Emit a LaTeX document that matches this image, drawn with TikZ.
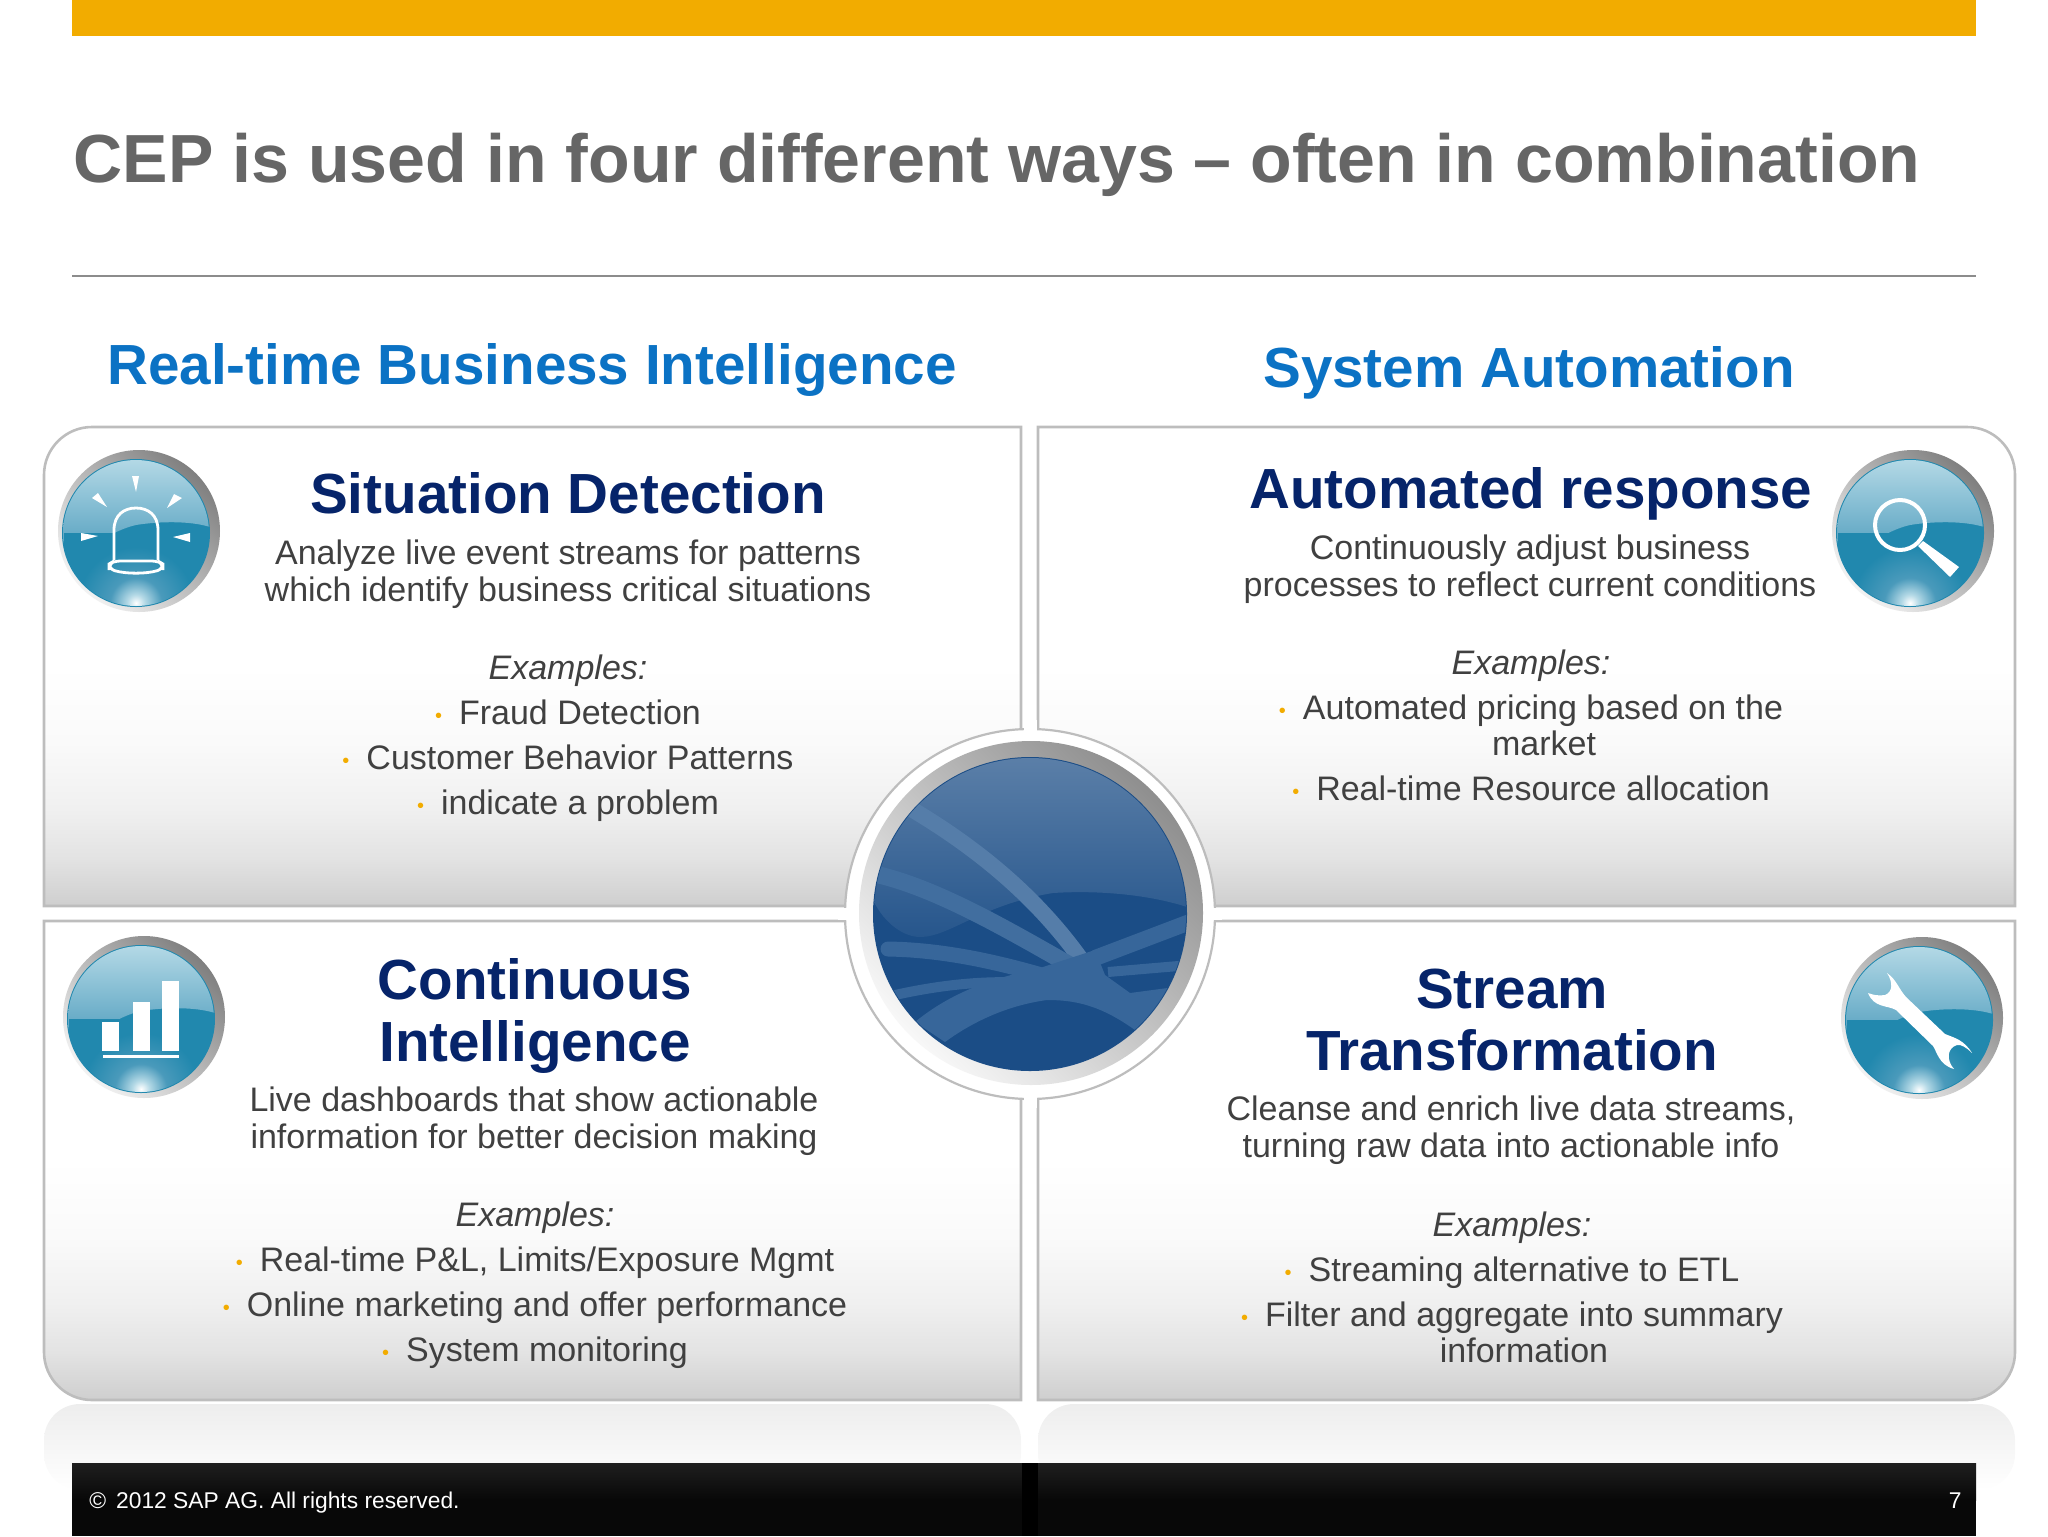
\documentclass[tikz,border=0pt]{standalone}
\usepackage{fontspec}
\setmainfont{Liberation Sans}
\usetikzlibrary{positioning}
\definecolor{sapgold}{HTML}{F2AC00}
\definecolor{titlegray}{HTML}{666666}
\definecolor{headblue}{HTML}{0B72C4}
\definecolor{navy}{HTML}{06246A}
\definecolor{bodygray}{HTML}{404040}
\definecolor{edgegray}{HTML}{BDBDBD}
\definecolor{teal}{HTML}{2188AE}
\definecolor{tealpale}{HTML}{B4D9E6}
\definecolor{tealmid}{HTML}{4A9ABB}
\definecolor{hubdark}{HTML}{1B4D86}
\definecolor{hubstrand}{HTML}{37669A}
\pgfdeclareverticalshading{panelshade}{100bp}{color(0bp)=(black!25); color(25bp)=(black!19); color(30bp)=(black!11); color(35bp)=(black!6); color(42bp)=(black!2); color(50bp)=(white); color(100bp)=(white)}
\pgfdeclareradialshading{ballglow}{\pgfpoint{0bp}{0bp}}{color(0bp)=(white); color(3bp)=(tealpale); color(9bp)=(tealmid); color(20bp)=(teal); color(100bp)=(teal)}
\newcommand{\dotitem}{\textcolor{sapgold}{\raisebox{.1ex}{\fontsize{10pt}{10pt}\selectfont\textbullet}}\hspace{8.5pt}}
\tikzset{
	x=.5pt, y=-.5pt,
	node distance=22.5pt,
	panelbox/.style={draw=edgegray, line width=1.3pt, shading=panelshade},
	mirrorbox/.style={top color=black!7, bottom color=white, draw=none},
	pagetitle/.style={font=\fontsize{34.05pt}{36pt}\selectfont\bfseries, text=titlegray, anchor=base},
	quadtitle/.style={font=\fontsize{28.3pt}{30pt}\selectfont\bfseries, text=headblue, anchor=base},
	boxhead/.style={font=\fontsize{28.3pt}{30pt}\selectfont\bfseries, text=navy, anchor=base, inner sep=0pt},
	boxtext/.style={font=\fontsize{17pt}{18.5pt}\selectfont, text=bodygray, anchor=base, align=center, inner sep=0pt},
	item/.style={font=\fontsize{17pt}{18.5pt}\selectfont, text=bodygray, inner sep=0pt, text height=13pt, text depth=4pt},
	ballline/.style={draw=white, line width=1.4pt},
	pics/glassball/.style={code={
		\shade[top color=black!50, bottom color=black!5, shading angle=-45] (3,-2) circle (81);
		\fill[teal] (0,0) circle (74);
		\begin{scope}
			\clip (0,0) circle (73);
			\shade[top color=tealpale, bottom color=tealmid] (-74,8) .. controls (-55,30) and (-35,0) .. (0,-8) .. controls (25,-12) and (55,-12) .. (74,-6) -- (74,-74) -- (-74,-74) -- cycle;
			\shade[shading=ballglow] (-72,0) rectangle (72,140);
		\end{scope}
		#1
	}}
}
\begin{document}
\begin{tikzpicture}
	\useasboundingbox (0,0) rectangle (2048,1536);
	\fill[sapgold] (72,0) rectangle (1976,36);
	\node[pagetitle] (title) at (997,182) {CEP is used in four different ways -- often in combination};
	\draw[black!45, line width=.8pt] (72,276) -- (1976,276);
	\node[quadtitle] (leftcol) at (532,384) {Real-time Business Intelligence};
	\node[quadtitle] (rightcol) at (1529,387) {System Automation};

	% reflection under the lower boxes
	\path[mirrorbox, rounded corners=18] (44,1490) -- (44,1404) -- (1021,1404) -- (1021,1490) -- cycle;
	\path[mirrorbox, rounded corners=18] (1038,1490) -- (1038,1404) -- (2015,1404) -- (2015,1490) -- cycle;

	\path[panelbox] (44,906) {[rounded corners=24] -- (44,427) -- (300,427)} -- (1021,427) -- (1021,906) -- cycle;
	\path[panelbox] (1038,906) -- (1038,427) {[rounded corners=24] -- (2015,427) -- (2015,700)} -- (2015,906) -- cycle;
	\path[panelbox] (44,921) -- (1021,921) -- (1021,1400) {[rounded corners=24] -- (44,1400) -- (44,1200)} -- cycle;
	\path[panelbox] (1038,921) -- (2015,921) {[rounded corners=24] -- (2015,1400) -- (1500,1400)} -- (1038,1400) -- cycle;

	% middle
	\draw[edgegray, fill=white, line width=1.1pt] (1030,914) circle (185);
	\fill[white] (1023.5,720) rectangle (1036.5,740);
	\fill[white] (1023.5,1088) rectangle (1036.5,1108);
	\fill[white] (838,908) rectangle (852,919.5);
	\fill[white] (1208,908) rectangle (1222,919.5);
	\shade[top color=black!44, bottom color=black!3, shading angle=-45] (1031,913) circle (172);
	\fill[hubdark] (1030,914) circle (157);
	\begin{scope}
		\clip (1030,914) circle (156);
		\shade[top color=hubdark!72!white, bottom color=hubdark!95!white] (873,900) .. controls (885,925) and (905,937) .. (920,937) .. controls (950,937) and (980,905) .. (1053,893) .. controls (1100,890) and (1150,895) .. (1187,907) -- (1187,757) -- (873,757) -- cycle;
		\draw[hubstrand!85!white, line width=8pt, line cap=round] (913,810) .. controls (980,850) and (1040,900) .. (1085,965);
		\draw[hubstrand!95!white, line width=8.5pt, line cap=round] (870,873) .. controls (930,885) and (1000,925) .. (1075,968);
		\draw[hubstrand, line width=7.5pt, line cap=round] (888,949) .. controls (950,950) and (1010,965) .. (1065,982);
		\draw[hubstrand, line width=5pt] (895,995) .. controls (940,985) and (985,980) .. (1030,983);
		\draw[hubstrand, line width=8pt] (1095,958) -- (1195,920);
		\draw[hubstrand, line width=5pt] (1108,972) -- (1190,965);
		\fill[hubstrand] (915,1022) .. controls (960,985) and (1010,975) .. (1040,968) -- (1095,950) -- (1105,975) -- (1130,993) -- (1190,985) -- (1190,1020) -- (1135,1030) .. controls (1100,1005) and (1075,1000) .. (1047,1000) .. controls (1010,1005) and (975,1020) .. (945,1042) -- cycle;
	\end{scope}

	% icons
	\path (136,533) pic (alarm) {glassball={
		\fill[white] (-4,-57) -- (3,-57) -- (0,-41) -- cycle;
		\fill[white] (-44,-35) -- (-38,-40) -- (-29,-26) -- cycle;
		\fill[white] (46,-35) -- (38,-39) -- (31,-25) -- cycle;
		\fill[white] (-55,0) -- (-55,8) -- (-38,3) -- cycle;
		\fill[white] (54,0) -- (54,9) -- (37,4) -- cycle;
		\draw[ballline] (-22,27) -- (-22,-3) .. controls (-22,-18) and (-12,-25) .. (0,-25) .. controls (12,-25) and (22,-18) .. (22,-3) -- (22,27);
		\draw[ballline, rounded corners=3] (-22,28) -- (22,28) -- (27,31) -- (27,36) .. controls (10,41) and (-10,41) .. (-27,36) -- (-27,31) -- cycle;
	}};
	\path (1910,533) pic (lens) {glassball={
		\draw[ballline, line width=2pt] (-10,-8) circle (25);
		\fill[white] (8,13) -- (13,8) -- (49,34) -- (40,44) -- cycle;
	}};
	\path (1919,1020) pic (wrench) {glassball={
		\fill[white] (-51,-27) .. controls (-45,-12) and (-32,-15) .. (-23,-10) -- (14,26) .. controls (18,32) and (20,45) .. (35,49) .. controls (27,40) and (28,28) .. (38,25) .. controls (42,24) and (48,28) .. (53,33) .. controls (45,20) and (36,18) .. (26,14) -- (-12,-22) .. controls (-20,-30) and (-22,-40) .. (-32,-47) .. controls (-26,-38) and (-26,-28) .. (-34,-25) .. controls (-40,-24) and (-46,-25) .. (-51,-27) -- cycle;
	}};
	\path (141,1019) pic (bars) {glassball={
		\fill[white] (-39,3) rectangle (-22,32);
		\fill[white] (-8,-17) rectangle (9,32);
		\fill[white] (21,-38) rectangle (38,32);
		\fill[white] (-38,36) rectangle (38,39);
	}};

	% upper left
	\node[boxhead] (head1) at (568,513) {Situation Detection};
	\node[boxtext] (text1) at (568,601) {Analyze live event streams for patterns\\which identify business critical situations};
	\node[item] (ex1) at (568,670) {\itshape Examples:};
	\node[item, below of=ex1] (ex1a) {\dotitem Fraud Detection};
	\node[item, below of=ex1a] (ex1b) {\dotitem Customer Behavior Patterns};
	\node[item, below of=ex1b] (ex1c) {\dotitem indicate a problem};

	% upper right
	\node[boxhead] (head2) at (1531,508) {Automated response};
	\node[boxtext] (text2) at (1530,596) {Continuously adjust business\\processes to reflect current conditions};
	\node[item] (ex2) at (1531,665) {\itshape Examples:};
	\node[item, below of=ex2] (ex2a) {\dotitem Automated pricing based on the};
	\node[item, below of=ex2a, node distance=18pt, xshift=6.5pt] (ex2b) {market};
	\node[item, below of=ex2b, xshift=-6.5pt] (ex2c) {\dotitem Real-time Resource allocation};

	% lower left
	\node[boxhead, align=center] (head3) at (535,1061) {Continuous\\[1pt]Intelligence};
	\node[boxtext] (text3) at (534,1148) {Live dashboards that show actionable\\information for better decision making};
	\node[item] (ex3) at (535,1217) {\itshape Examples:};
	\node[item, below of=ex3] (ex3a) {\dotitem Real-time P\&L, Limits/Exposure Mgmt};
	\node[item, below of=ex3a] (ex3b) {\dotitem Online marketing and offer performance};
	\node[item, below of=ex3b] (ex3c) {\dotitem System monitoring};

	% lower right
	\node[boxhead, align=center] (head4) at (1512,1070) {Stream\\[1pt]Transformation};
	\node[boxtext] (text4) at (1511,1157) {Cleanse and enrich live data streams,\\turning raw data into actionable info};
	\node[item] (ex4) at (1512,1227) {\itshape Examples:};
	\node[item, below of=ex4] (ex4a) {\dotitem Streaming alternative to ETL};
	\node[item, below of=ex4a] (ex4b) {\dotitem Filter and aggregate into summary};
	\node[item, below of=ex4b, node distance=18pt, xshift=6pt] (ex4c) {information};

	% footer
	\shade[top color=black!88, bottom color=black!97] (72,1463) rectangle (1976,1500);
	\fill[black!97] (72,1499) rectangle (1976,1536);
	\fill[black] (1022,1463) rectangle (1038,1536);
	\node[font=\fontsize{11.4pt}{13pt}\selectfont, text=white, anchor=base west, inner sep=0pt] (rights) at (89,1508) {©\hspace{5pt}2012 SAP AG. All rights reserved.};
	\node[font=\fontsize{11.4pt}{13pt}\selectfont, text=white, anchor=base east, inner sep=0pt] (pageno) at (1962,1508) {7};
\end{tikzpicture}
\end{document}
